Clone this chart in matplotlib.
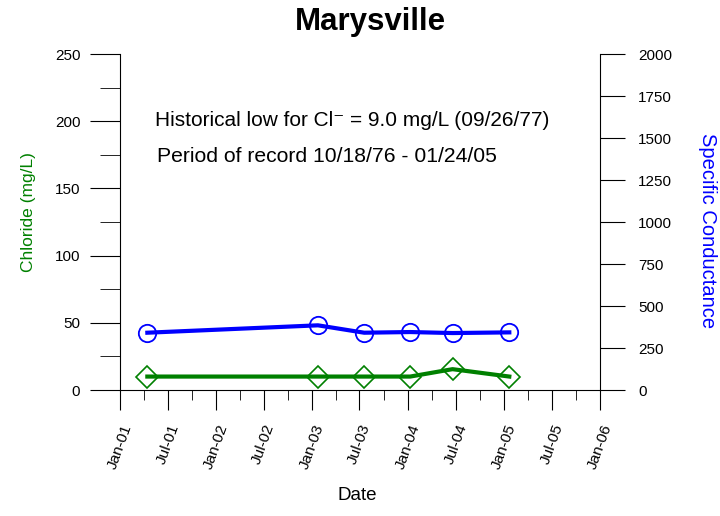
import matplotlib
matplotlib.use('Agg')
import matplotlib.pyplot as plt
import matplotlib.dates as mdates
import pandas as pd

plt.rcParams['font.family'] = ['Liberation Sans', 'DejaVu Sans']

dates = pd.to_datetime(['2001-04-15', '2003-01-24', '2003-07-19', '2004-01-10', '2004-06-19', '2005-01-21'])
chloride = [10, 10, 10, 10, 15.5, 10]
conductance = [341, 385, 341, 345, 339, 343]

fig = plt.figure(figsize=(7.2, 5.16), dpi=100)
ax = fig.add_axes([120/720, 1-390/516, 480/720, 336/516])
ax2 = ax.twinx()

ax.plot(dates, chloride, color='#008000', lw=3, marker='D', ms=11, mfc='none', mew=1.2, zorder=3)
ax2.plot(dates, conductance, color='#0000ff', lw=3, marker='o', ms=12.5, mfc='none', mew=1.3, zorder=3)

ax.set_xlim(pd.Timestamp('2001-01-01'), pd.Timestamp('2006-01-01'))
ax.set_ylim(0, 250)
ax2.set_ylim(0, 2000)
ax.set_yticks(range(0, 251, 50))
ax.set_yticks(range(25, 250, 50), minor=True)
ax2.set_yticks(range(0, 2001, 250))

ax.xaxis.set_major_locator(mdates.MonthLocator(bymonth=[1, 7]))
ax.xaxis.set_minor_locator(mdates.MonthLocator(bymonth=[4, 10]))
ax.xaxis.set_major_formatter(mdates.DateFormatter('%b-%y'))
for lab in ax.get_xticklabels():
    lab.set_rotation(70)
    lab.set_ha('center')

ax.tick_params(axis='x', which='major', direction='out', length=14.4, labelsize=11, pad=9)
ax.tick_params(axis='x', which='minor', direction='out', length=7.2)
ax.tick_params(axis='y', which='major', direction='out', length=21.6, labelsize=11, pad=7)
ax.tick_params(axis='y', which='minor', direction='out', length=14.4)
ax2.tick_params(axis='y', which='major', direction='out', length=18, labelsize=11, pad=9.4)

for a in (ax, ax2):
    a.spines['top'].set_visible(False)
ax.spines['right'].set_visible(False)
ax2.spines['left'].set_visible(False)
ax2.spines['bottom'].set_visible(False)

fig.text(28/720, 1-212/516, 'Chloride (mg/L)', color='#008000', fontsize=12.5,
         rotation=90, ha='center', va='center')
fig.text(707/720, 1-231/516, 'Specific Conductance', color='#0000ff', fontsize=14.5,
         rotation=-90, ha='center', va='center')
fig.text(357/720, 1-496/516, 'Date', fontsize=13.5, ha='center', va='center')
fig.text(370/720, 1-22/516, 'Marysville', fontsize=22.5, fontweight='bold', ha='center', va='center')

fig.text(155/720, 1-121/516, 'Historical low for Cl\u207b = 9.0 mg/L (09/26/77)', fontsize=15,
         va='center')
fig.text(157/720, 1-157/516, 'Period of record 10/18/76 - 01/24/05', fontsize=15.2, va='center')

fig.savefig('out.png', dpi=100)
